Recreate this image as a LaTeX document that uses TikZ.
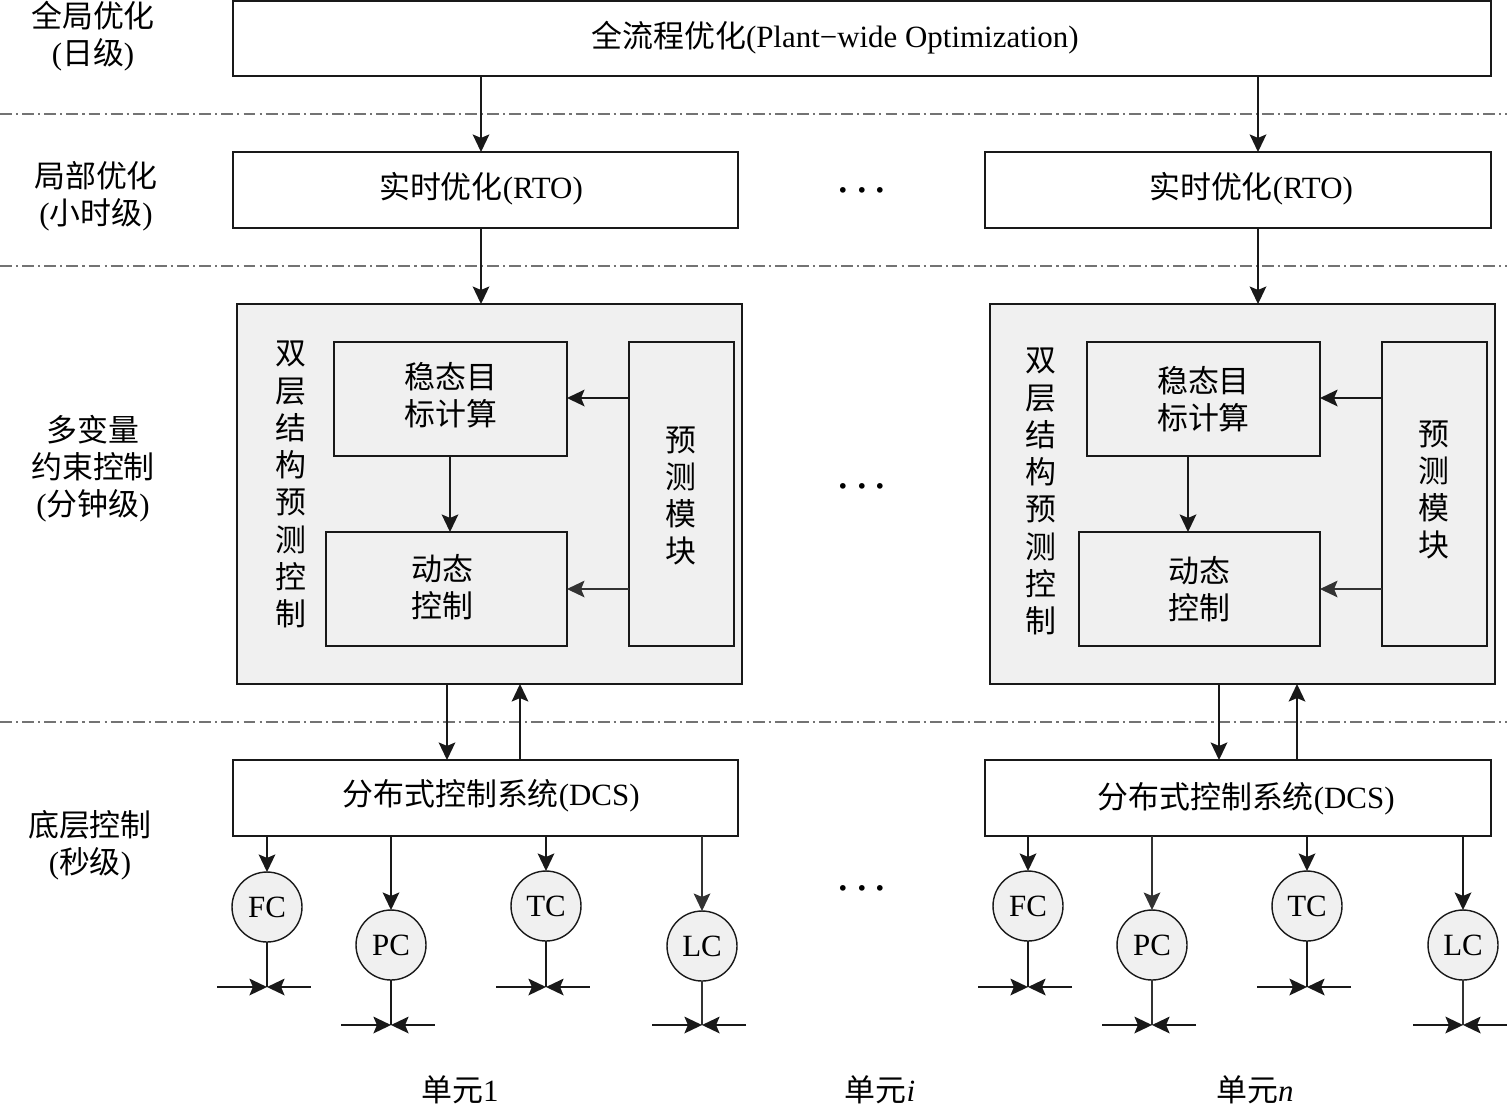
\documentclass[tikz,border=0pt]{standalone}
\usepackage{xcolor}
\usepackage{fontspec}
\setmainfont{Liberation Serif}
\newfontfamily\cjk{Noto Sans CJK SC}
\usetikzlibrary{arrows.meta}
\definecolor{panelgray}{gray}{0.94}
\tikzset{
  txt/.style={font=\fontsize{17.6}{21.2}\selectfont, align=center, inner sep=0pt, outer sep=0pt},
  dotstxt/.style={txt, font=\fontsize{20}{22}\selectfont\boldmath},
  box/.style={txt, draw=black!90, line width=1pt},
  panel/.style={box, fill=panelgray},
  ctrl/.style={txt, draw=black!90, line width=0.8pt, fill=panelgray, circle, minimum size=1.4cm},
  valve/.style={inner sep=0pt, outer sep=0pt, minimum width=1.88cm, minimum height=0pt},
  wire/.style={draw=black!90, line width=1pt},
  thinwire/.style={draw=black!80, line width=0.6pt},
  tip/.style={wire, -{Stealth[length=10pt,width=9.5pt,inset=2pt]}},
  thintip/.style={thinwire, -{Stealth[length=10pt,width=9.5pt,inset=2pt]}},
  level/.style={draw=black!55, line width=0.7pt, dash pattern=on 6.8pt off 2.3pt on 1.2pt off 2.3pt}
}
\begin{document}
\begin{tikzpicture}[x=0.02cm,y=-0.02cm]
        \useasboundingbox (0,0) rectangle (1507,1107);

        % Level separators
        \coordinate (sepAl) at (0,114);
        \coordinate (sepAr) at (1507,114);
        \coordinate (sepBl) at (0,266);
        \coordinate (sepBr) at (1507,266);
        \coordinate (sepCl) at (0,722);
        \coordinate (sepCr) at (1507,722);
        \draw[level] (sepAl) -- (sepAr);
        \draw[level] (sepBl) -- (sepBr);
        \draw[level] (sepCl) -- (sepCr);

        % Level names
        \node[txt] (lblDay) at (93,36) {{\cjk 全局优化}\\({\cjk 日级})};
        \node[txt] (lblHour) at (96,196) {{\cjk 局部优化}\\({\cjk 小时级})};
        \node[txt] (lblMin) at (93,468.5) {{\cjk 多变量}\\{\cjk 约束控制}\\({\cjk 分钟级})};
        \node[txt] (lblSec) at (90,845.5) {{\cjk 底层控制}\\({\cjk 秒级})};

        % Plant-wide optimization
        \node[box, minimum width=25.16cm, minimum height=1.5cm] (glob) at (862,38.5) {};
        \node[txt] (globText) at (835,38) {{\cjk 全流程优化}(Plant−wide Optimization)};

        % RTO
        \node[box, minimum width=10.1cm, minimum height=1.52cm] (rto1) at (485.5,190) {};
        \node[txt] (rtoText1) at (481,189) {{\cjk 实时优化}(RTO)};
        \node[box, minimum width=10.12cm, minimum height=1.52cm] (rto2) at (1238,190) {};
        \node[txt] (rtoText2) at (1251,189) {{\cjk 实时优化}(RTO)};

        % MPC unit 1
        \node[panel, minimum width=10.1cm, minimum height=7.6cm] (mpc1) at (489.5,494) {};
        \node[txt] (mpcName1) at (291,484.5) {{\cjk 双}\\{\cjk 层}\\{\cjk 结}\\{\cjk 构}\\{\cjk 预}\\{\cjk 测}\\{\cjk 控}\\{\cjk 制}};
        \node[panel, minimum width=4.66cm, minimum height=2.28cm] (ss1) at (450.5,399) {};
        \node[txt] (ssText1) at (451,395) {{\cjk 稳态目}\\{\cjk 标计算}};
        \node[panel, minimum width=4.82cm, minimum height=2.28cm] (dyn1) at (446.5,589) {};
        \node[txt] (dynText1) at (442,587) {{\cjk 动态}\\{\cjk 控制}};
        \node[panel, minimum width=2.1cm, minimum height=6.08cm] (pred1) at (681.5,494) {};
        \node[txt] (predText1) at (681,496) {{\cjk 预}\\{\cjk 测}\\{\cjk 模}\\{\cjk 块}};

        % MPC unit n
        \node[panel, minimum width=10.1cm, minimum height=7.6cm] (mpc2) at (1242.5,494) {};
        \node[txt] (mpcName2) at (1041,491.5) {{\cjk 双}\\{\cjk 层}\\{\cjk 结}\\{\cjk 构}\\{\cjk 预}\\{\cjk 测}\\{\cjk 控}\\{\cjk 制}};
        \node[panel, minimum width=4.66cm, minimum height=2.28cm] (ss2) at (1203.5,399) {};
        \node[txt] (ssText2) at (1203.5,399) {{\cjk 稳态目}\\{\cjk 标计算}};
        \node[panel, minimum width=4.82cm, minimum height=2.28cm] (dyn2) at (1199.5,589) {};
        \node[txt] (dynText2) at (1199,589) {{\cjk 动态}\\{\cjk 控制}};
        \node[panel, minimum width=2.1cm, minimum height=6.08cm] (pred2) at (1434.5,494) {};
        \node[txt] (predText2) at (1434,490) {{\cjk 预}\\{\cjk 测}\\{\cjk 模}\\{\cjk 块}};

        % DCS
        \node[box, minimum width=10.1cm, minimum height=1.52cm] (dcs1) at (485.5,798) {};
        \node[txt] (dcsText1) at (491,796) {{\cjk 分布式控制系统}(DCS)};
        \node[box, minimum width=10.12cm, minimum height=1.52cm] (dcs2) at (1238,798) {};
        \node[txt] (dcsText2) at (1246,799) {{\cjk 分布式控制系统}(DCS)};

        % Controllers unit 1
        \node[ctrl] (fc1) at (267,907) {FC};
        \node[ctrl] (pc1) at (391,945) {PC};
        \node[ctrl] (tc1) at (546,906) {TC};
        \node[ctrl] (lc1) at (702,946) {LC};
        \node[valve] (vfc1) at (264,987) {};
        \node[valve] (vpc1) at (388,1025) {};
        \node[valve] (vtc1) at (543,987) {};
        \node[valve] (vlc1) at (699,1025) {};

        % Controllers unit n
        \node[ctrl] (fc2) at (1028,906) {FC};
        \node[ctrl] (pc2) at (1152,945) {PC};
        \node[ctrl] (tc2) at (1307,906) {TC};
        \node[ctrl] (lc2) at (1463,945) {LC};
        \node[valve] (vfc2) at (1025,987) {};
        \node[valve] (vpc2) at (1149,1025) {};
        \node[valve] (vtc2) at (1304,987) {};
        \node[valve] (vlc2) at (1460,1025) {};

        % Dots between units
        \node[dotstxt] (dotsA) at (862,191) {$\cdots$};
        \node[dotstxt] (dotsB) at (862,487) {$\cdots$};
        \node[dotstxt] (dotsC) at (862,889) {$\cdots$};

        % Unit names
        \node[txt] (unit1) at (460,1090) {{\cjk 单元}1};
        \node[txt] (uniti) at (880,1090) {{\cjk 单元}\textit{i}};
        \node[txt] (unitn) at (1255,1090) {{\cjk 单元}\textit{n}};

        % Optimization to RTO to MPC
        \draw[tip] (glob.south -| 481,0) -- (rto1.north -| 481,0);
        \draw[tip] (glob.south -| 1258,0) -- (rto2.north -| 1258,0);
        \draw[tip] (rto1.south -| 481,0) -- (mpc1.north -| 481,0);
        \draw[tip] (rto2.south -| 1258,0) -- (mpc2.north -| 1258,0);

        % Inside MPC
        \draw[tip] (ss1.south -| 450,0) -- (dyn1.north -| 450,0);
        \draw[tip] (pred1.west |- 0,398) -- (ss1.east |- 0,398);
        \draw[thintip] (pred1.west |- 0,589) -- (dyn1.east |- 0,589);
        \draw[tip] (ss2.south -| 1188,0) -- (dyn2.north -| 1188,0);
        \draw[tip] (pred2.west |- 0,398) -- (ss2.east |- 0,398);
        \draw[thintip] (pred2.west |- 0,589) -- (dyn2.east |- 0,589);

        % MPC to DCS and back
        \draw[tip] (mpc1.south -| 447,0) -- (dcs1.north -| 447,0);
        \draw[tip] (dcs1.north -| 520,0) -- (mpc1.south -| 520,0);
        \draw[tip] (mpc2.south -| 1219,0) -- (dcs2.north -| 1219,0);
        \draw[tip] (dcs2.north -| 1297,0) -- (mpc2.south -| 1297,0);

        % DCS to controllers
        \draw[tip] (dcs1.south -| fc1) -- (fc1);
        \draw[tip] (dcs1.south -| pc1) -- (pc1);
        \draw[tip] (dcs1.south -| tc1) -- (tc1);
        \draw[thintip] (dcs1.south -| lc1) -- (lc1);
        \draw[tip] (dcs2.south -| fc2) -- (fc2);
        \draw[thintip] (dcs2.south -| pc2) -- (pc2);
        \draw[tip] (dcs2.south -| tc2) -- (tc2);
        \draw[tip] (dcs2.south -| lc2) -- (lc2);

        % Controllers to valves
        \draw[wire] (fc1) -- (vfc1 -| fc1);
        \draw[wire] (pc1) -- (vpc1 -| pc1);
        \draw[wire] (tc1) -- (vtc1 -| tc1);
        \draw[thinwire] (lc1) -- (vlc1 -| lc1);
        \draw[wire] (fc2) -- (vfc2 -| fc2);
        \draw[thinwire] (pc2) -- (vpc2 -| pc2);
        \draw[wire] (tc2) -- (vtc2 -| tc2);
        \draw[thinwire] (lc2) -- (vlc2 -| lc2);

        % Valves
        \draw[tip] (vfc1.west) -- (vfc1 -| fc1);
        \draw[tip] (vfc1.east) -- (vfc1 -| fc1);
        \draw[tip] (vpc1.west) -- (vpc1 -| pc1);
        \draw[tip] (vpc1.east) -- (vpc1 -| pc1);
        \draw[tip] (vtc1.west) -- (vtc1 -| tc1);
        \draw[tip] (vtc1.east) -- (vtc1 -| tc1);
        \draw[tip] (vlc1.west) -- (vlc1 -| lc1);
        \draw[tip] (vlc1.east) -- (vlc1 -| lc1);
        \draw[tip] (vfc2.west) -- (vfc2 -| fc2);
        \draw[tip] (vfc2.east) -- (vfc2 -| fc2);
        \draw[tip] (vpc2.west) -- (vpc2 -| pc2);
        \draw[tip] (vpc2.east) -- (vpc2 -| pc2);
        \draw[tip] (vtc2.west) -- (vtc2 -| tc2);
        \draw[tip] (vtc2.east) -- (vtc2 -| tc2);
        \draw[tip] (vlc2.west) -- (vlc2 -| lc2);
        \draw[tip] (vlc2.east) -- (vlc2 -| lc2);
    \end{tikzpicture}
\end{document}
